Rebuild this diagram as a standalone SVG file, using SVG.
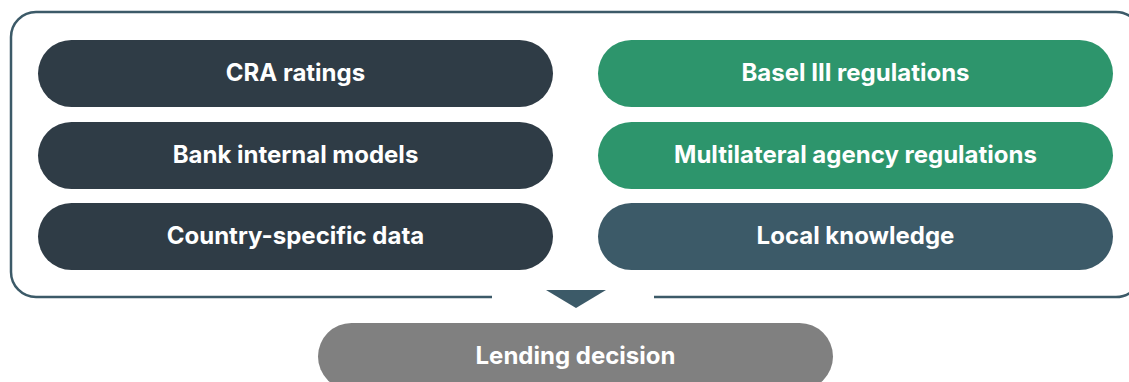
<svg xmlns="http://www.w3.org/2000/svg" width="1129" height="382" viewBox="0 0 1129 382">
  <style>
    .lbl { font-family: Inter, "Liberation Sans", sans-serif; font-weight: 700; font-size: 24px; fill: #ffffff; text-anchor: middle; dominant-baseline: central; }
    .dark { fill: #2f3c46; }
    .green { fill: #2d956c; }
    .teal { fill: #3c5a68; }
    .grey { fill: #808080; }
  </style>

  <!-- frame around the inputs, open at the bottom for the arrow -->
  <g id="frame">
    <path d="M 492 297 H 36 A 25 25 0 0 1 11 272 V 37 A 25 25 0 0 1 36 12 H 1116 A 25 25 0 0 1 1141 37 V 272 A 25 25 0 0 1 1116 297 H 654" fill="none" stroke="#3c5a68" stroke-width="2.5"/>
  </g>

  <g id="cra-ratings">
    <rect class="dark" x="38" y="40" width="515" height="67" rx="33.5"/>
    <text class="lbl" x="295.5" y="72.5">CRA ratings</text>
  </g>
  <g id="bank-internal-models">
    <rect class="dark" x="38" y="122" width="515" height="67" rx="33.5"/>
    <text class="lbl" x="295.5" y="154.5">Bank internal models</text>
  </g>
  <g id="country-specific-data">
    <rect class="dark" x="38" y="203" width="515" height="67" rx="33.5"/>
    <text class="lbl" x="295.5" y="235.5">Country-specific data</text>
  </g>
  <g id="basel-iii">
    <rect class="green" x="598" y="40" width="515" height="67" rx="33.5"/>
    <text class="lbl" x="855.5" y="72.5">Basel III regulations</text>
  </g>
  <g id="multilateral-agency">
    <rect class="green" x="598" y="122" width="515" height="67" rx="33.5"/>
    <text class="lbl" x="855.5" y="154.5">Multilateral agency regulations</text>
  </g>
  <g id="local-knowledge">
    <rect class="teal" x="598" y="203" width="515" height="67" rx="33.5"/>
    <text class="lbl" x="855.5" y="235.5">Local knowledge</text>
  </g>

  <g id="connectors">
    <polygon class="teal" points="546,290 606,290 576,308"/>
  </g>

  <g id="lending-decision">
    <rect class="grey" x="318" y="323" width="515" height="67" rx="33.5"/>
    <text class="lbl" x="575.5" y="355">Lending decision</text>
  </g>
</svg>
